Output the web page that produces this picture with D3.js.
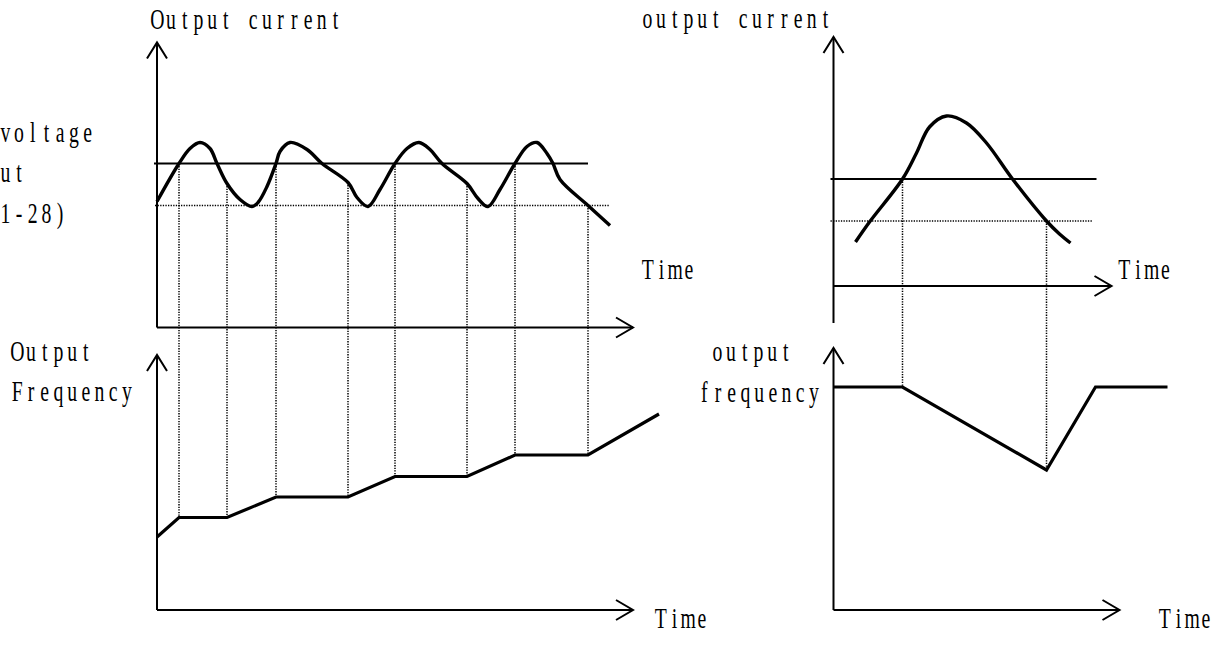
<!DOCTYPE html>
<html><head><meta charset="utf-8">
<script src="https://cdn.jsdelivr.net/npm/d3@7"></script>
<style>html,body{margin:0;padding:0;background:#fff;overflow:hidden}svg{display:block}</style>
</head><body>
<script>
// ---------------- data ----------------
// Left example: output current oscillating around the stall level
const leftCurrentTime  = [0, 2.2, 3.3, 4.3, 5.3, 6.0, 7.0, 8.3, 9.5, 10.1, 11.0, 11.9, 12.3, 13.3, 15.0, 16.5, 19.1, 20.0, 21.1, 22.3, 23.8, 25.0, 26.2, 27.3, 28.5, 31.0, 32.1, 33.1, 34.3, 35.8, 37.0, 38.0, 39.0, 39.6, 40.3, 43.1, 45.3];
const leftCurrentValue = [12.6, 16.4, 17.9, 18.5, 17.9, 16.4, 14.4, 12.8, 12.1, 12.5, 14.1, 16.4, 17.6, 18.5, 17.8, 16.4, 14.5, 13.0, 12.1, 13.8, 16.4, 17.9, 18.5, 17.8, 16.4, 14.4, 12.9, 12.1, 13.8, 16.4, 18.1, 18.5, 17.4, 16.4, 14.8, 12.2, 10.2];
const leftUpperLevel = 16.4;          // solid level
const leftLowerLevel = 12.2;          // dotted level
const leftUpperSpan = [-0.3, 43.1];
const leftLowerSpan = [-0.2, 45.2];
const leftFreqTime  = [0, 2.2, 7.0, 11.9, 19.1, 23.8, 31.0, 35.8, 43.1, 50.2];
const leftFreqValue = [7.3, 9.25, 9.25, 11.3, 11.3, 13.35, 13.35, 15.5, 15.5, 19.6];
const leftEventTime    = [2.2, 7.0, 11.9, 19.1, 23.8, 31.0, 35.8, 43.1];
const leftEventCurrent = [16.4, 14.4, 16.4, 14.5, 16.4, 14.4, 16.4, 12.2];

// Right example: single current peak
const rightCurrentTime  = [2.2, 3.6, 6.9, 8.3, 9.6, 11.3, 13.3, 15.3, 17.9, 21.3, 22.6, 23.7];
const rightCurrentValue = [4.4, 6.4, 10.7, 13.3, 15.9, 17.0, 16.3, 14.3, 10.7, 6.5, 5.2, 4.3];
const rightUpperLevel = 10.7;
const rightLowerLevel = 6.5;
const rightUpperSpan = [-0.3, 26.3];
const rightLowerSpan = [-0.3, 25.9];
const rightFreqTime  = [0, 6.9, 21.3, 26.2, 33.4];
const rightFreqValue = [22.3, 22.3, 14.0, 22.3, 22.3];
const rightEventTime    = [6.9, 21.3];
const rightEventCurrent = [10.7, 6.5];

// text
const titleTopLeft = "Output current";
const titleTopRight = "output current";
const sideNote = ["voltage", "ut", "1-28)"];
const freqLeft = ["Output", "Frequency"];
const freqRight = ["output", "frequency"];
const timeLabel = "Time";

// ---------------- drawing ----------------
const W = 1219, H = 657;
const svg = d3.select("body").append("svg").attr("width", W).attr("height", H);

const xL  = d3.scaleLinear().domain([0, 48]).range([157, 637]);
const yTL = d3.scaleLinear().domain([0, 30]).range([327.5, 27.5]);
const yBL = d3.scaleLinear().domain([0, 26]).range([610, 350]);
const xR  = d3.scaleLinear().domain([0, 30]).range([833.5, 1133.5]);
const yTR = d3.scaleLinear().domain([0, 30]).range([286, -14]);
const yBR = d3.scaleLinear().domain([0, 26]).range([610, 350]);

const ink = "#000";

function axisPair(xs, ys, yFrom, yTo, xTo) {
  const g = svg.append("g").attr("fill", "none").attr("stroke", ink).attr("stroke-width", 2);
  const x0 = xs(0), y0 = ys(0);
  g.append("line").attr("x1", x0).attr("x2", x0).attr("y1", ys(yFrom)).attr("y2", ys(yTo));
  const ty = ys(yTo);
  g.append("polyline").attr("points", `${x0-10},${ty+16} ${x0},${ty} ${x0+10},${ty+16}`);
  const tx = xs(xTo);
  g.append("line").attr("x1", x0).attr("x2", tx).attr("y1", y0).attr("y2", y0);
  g.append("polyline").attr("points", `${tx-17},${y0-10} ${tx},${y0} ${tx-17},${y0+10}`);
}

axisPair(xL, yTL, 0, 28.5, 47.6);
axisPair(xL, yBL, 0, 25.5, 47.6);
axisPair(xR, yTR, -3.7, 24.9, 27.8);
axisPair(xR, yBR, 0, 26.2, 28.6);

function level(xs, ys, v, span, dotted) {
  svg.append("line")
    .attr("x1", xs(span[0])).attr("x2", xs(span[1]))
    .attr("y1", ys(v)).attr("y2", ys(v))
    .attr("stroke", ink)
    .attr("stroke-width", dotted ? 1.6 : 2)
    .attr("stroke-dasharray", dotted ? "1.3,1.3" : null);
}
level(xL, yTL, leftUpperLevel, leftUpperSpan, false);
level(xL, yTL, leftLowerLevel, leftLowerSpan, true);
level(xR, yTR, rightUpperLevel, rightUpperSpan, false);
level(xR, yTR, rightLowerLevel, rightLowerSpan, true);

function guides(xs, yTop, yBot, times, currents, fT, fV) {
  times.forEach((t, i) => {
    const fi = fT.indexOf(t);
    svg.append("line")
      .attr("x1", xs(t)).attr("x2", xs(t))
      .attr("y1", yTop(currents[i])).attr("y2", yBot(fV[fi]))
      .attr("stroke", ink).attr("stroke-width", 1.5)
      .attr("stroke-dasharray", "1.3,1.3");
  });
}
guides(xL, yTL, yBL, leftEventTime, leftEventCurrent, leftFreqTime, leftFreqValue);
guides(xR, yTR, yBR, rightEventTime, rightEventCurrent, rightFreqTime, rightFreqValue);

function curve(xs, ys, T, V) {
  const line = d3.line().x(d => xs(d[0])).y(d => ys(d[1])).curve(d3.curveCatmullRom.alpha(0.5));
  svg.append("path").datum(d3.zip(T, V)).attr("d", line)
    .attr("fill", "none").attr("stroke", ink).attr("stroke-width", 3.4)
    .attr("stroke-linejoin", "round").attr("stroke-linecap", "butt");
}
curve(xL, yTL, leftCurrentTime, leftCurrentValue);
curve(xR, yTR, rightCurrentTime, rightCurrentValue);

function freq(xs, ys, T, V) {
  const line = d3.line().x(d => xs(d[0])).y(d => ys(d[1]));
  svg.append("path").datum(d3.zip(T, V)).attr("d", line)
    .attr("fill", "none").attr("stroke", ink).attr("stroke-width", 3.2)
    .attr("stroke-linejoin", "miter");
}
freq(xL, yBL, leftFreqTime, leftFreqValue);
freq(xR, yBR, rightFreqTime, rightFreqValue);

// monospaced Mincho-like text: each glyph centred in a fixed cell
function monoText(str, x0, baseline) {
  const cell = 13.7, sx = 0.68;
  const xs = Array.from(str, (c, i) => ((i + 0.5) * cell / sx).toFixed(2)).join(" ");
  svg.append("text")
    .attr("transform", `translate(${x0},${baseline}) scale(${sx},1)`)
    .attr("x", xs).attr("y", 0)
    .attr("text-anchor", "middle")
    .attr("fill", ink)
    .style("font-family", "'Liberation Serif', 'DejaVu Serif', serif")
    .style("font-size", "29px")
    .text(str);
}

monoText(titleTopLeft, 150.5, 28.5);
monoText(titleTopRight, 640.5, 28);
monoText(sideNote[0], -1.5, 142);
monoText(sideNote[1], -1.5, 182);
monoText(sideNote[2], -1.5, 223);
monoText(freqLeft[0], 10.5, 361);
monoText(freqLeft[1], 10.5, 401);
monoText(freqRight[0], 710.5, 361);
monoText(freqRight[1], 697.5, 401.5);
monoText(timeLabel, 641, 278.5);
monoText(timeLabel, 1117.5, 278.5);
monoText(timeLabel, 654, 628);
monoText(timeLabel, 1158, 628);
</script>
</body></html>
